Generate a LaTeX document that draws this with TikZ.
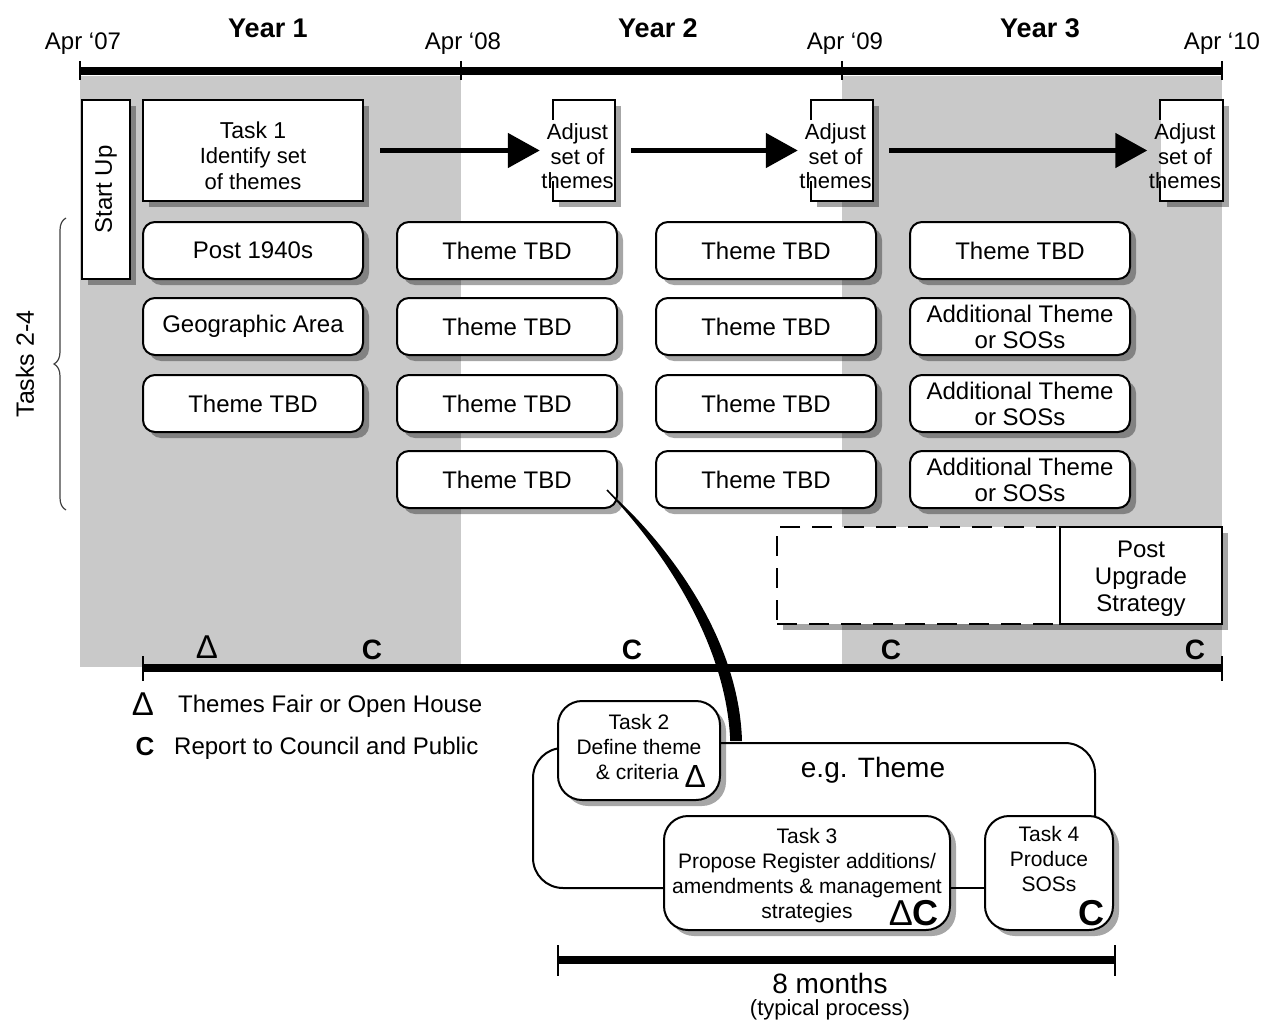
\documentclass[tikz,border=0pt]{standalone}
\usepackage{fontspec}
\setmainfont{Liberation Sans}
\usetikzlibrary{positioning,shadows,arrows.meta,decorations.pathreplacing}

\definecolor{bandgrey}{gray}{0.79}

\tikzset{
  sh/.style={drop shadow={shadow xshift=6pt,shadow yshift=-6pt,opacity=0.35,fill=black}},
  themebox/.style={draw,line width=2pt,fill=white,rounded corners=12pt,minimum width=220pt,
    minimum height=57pt,align=center,font=\fontsize{24}{26}\selectfont,sh},
  taskbox/.style={draw,line width=2pt,fill=white,align=center,sh,font=\fontsize{22}{25.5}\selectfont},
  adjbox/.style={fill=white,minimum width=62pt,minimum height=101pt,inner sep=0pt,sh},
  adjtext/.style={align=center,inner sep=0pt,font=\fontsize{22}{24.5}\selectfont},
  procbox/.style={draw,line width=2pt,fill=white,rounded corners=24pt,align=center,sh,
    font=\fontsize{21}{25}\selectfont},
  bigarrow/.style={line width=5pt,-{Triangle[length=32pt,width=34pt]},shorten <=16pt,shorten >=13pt},
  cmark/.style={font=\bfseries\fontsize{28}{28}\selectfont,inner sep=0pt},
  bigmark/.style={font=\bfseries\fontsize{36}{36}\selectfont,inner sep=0pt},
  deltamark/.style={font=\fontsize{33}{33}\selectfont,inner sep=0pt},
  loopline/.style={line width=2pt,rounded corners=30pt},
  datelbl/.style={font=\fontsize{24}{24}\selectfont},
  yearlbl/.style={font=\bfseries\fontsize{27}{27}\selectfont},
}

\begin{document}
\begin{tikzpicture}[x=1pt,y=-1pt]
    \useasboundingbox (0,0) rectangle (1274,1022);

    % grey years
    \fill[bandgrey] (80,76) rectangle (461,667);
    \fill[bandgrey] (842,76) rectangle (1222,667);

    % time line on top
    \draw[line width=8pt] (80,71) -- (1222,71);
    \foreach \x in {80,461,842,1222} \draw[line width=2.5pt] (\x,61) -- (\x,80);
    \node[datelbl] (d07) at (83,44) {Apr `07};
    \node[datelbl] (d08) at (463,44) {Apr `08};
    \node[datelbl] (d09) at (845,44) {Apr `09};
    \node[datelbl] (d10) at (1222,44) {Apr `10};
    \node[yearlbl] (yr1) at (268,28) {Year 1};
    \node[yearlbl] (yr2) at (658,28) {Year 2};
    \node[yearlbl] (yr3) at (1040,28) {Year 3};

    % task 1 and adjustments
    \node[taskbox,minimum width=48pt,minimum height=179pt,inner sep=0pt,font=\fontsize{24}{24}\selectfont]
        (start) at (106,189.5) {\rotatebox{90}{Start Up}};
    \node[taskbox,minimum width=220pt,minimum height=101pt] (task1) at (253,150.5)
        {{\fontsize{23}{25}\selectfont\rule{0pt}{27pt}Task 1}\\Identify set\\of themes};
    \node[adjbox] (adj1) at (584,150.5) {};
    \node[adjbox] (adj2) at (842,150.5) {};
    \node[adjbox] (adj3) at (1191.5,150.5) {};
    \foreach \a in {adj1,adj2,adj3} {
        \draw[line width=2pt] ([yshift=-20pt]\a.north west) -- (\a.north west) -- (\a.north east)
            -- (\a.south east) -- (\a.south west) -- ([yshift=20pt]\a.south west);
        \node[adjtext] (\a t) at ([xshift=-6.5pt,yshift=-6pt]\a.center) {Adjust\\set of\\themes};
    }
    \draw[bigarrow] (task1) -- (adj1);
    \draw[bigarrow] (adj1) -- (adj2);
    \draw[bigarrow] (adj2) -- (adj3);

    % themes
    \node[themebox] (p40) at (253,250.5) {Post 1940s};
    \node[themebox] (geo) at (253,326.5) {Geographic Area};
    \node[themebox] (tbd13) at (253,403.5) {Theme TBD};
    \foreach \c/\x in {2/507,3/766}
        \foreach \r/\y in {1/250.5,2/326.5,3/403.5,4/479.5}
            \node[themebox] (tbd\c\r) at (\x,\y) {Theme TBD};
    \node[themebox] (tbd41) at (1020,250.5) {Theme TBD};
    \foreach \r/\y in {2/326.5,3/403.5,4/479.5}
        \node[themebox] (add\r) at (1020,\y) {Additional Theme\\or SOSs};

    % post upgrade
    \node[draw,fill=white,line width=2pt,dash pattern=on 20pt off 12pt,minimum width=283pt,
        minimum height=97pt,sh] (future) at (918.5,575.5) {};
    \node[taskbox,minimum width=162pt,minimum height=97pt,font=\fontsize{24}{27}\selectfont]
        (pus) at (1141,575.5) {\rule{0pt}{23pt}Post\\Upgrade\\Strategy};

    % brace
    \draw[decorate,decoration={brace,amplitude=12pt},line width=1.2pt,black!75] (66,510) -- (66,218);
    \node[rotate=90,font=\fontsize{25}{25}\selectfont] (tasks) at (25,364) {Tasks 2-4};

    % time line at bottom
    \draw[line width=8pt] (143,668) -- (1222,668);
    \foreach \x in {143,1222} \draw[line width=2.5pt] (\x,656) -- (\x,681);
    \node[deltamark] (fair1) at (207,647) {Δ};
    \node[cmark] (rep1) at (372,650) {C};
    \node[cmark] (rep2) at (632,650) {C};
    \node[cmark] (rep3) at (891,650) {C};
    \node[cmark] (rep4) at (1195,650) {C};

    % legend
    \node[deltamark] (lgfair) at (143,704) {Δ};
    \node[anchor=west,inner sep=0pt,font=\fontsize{24}{24}\selectfont] (lgfairt) at (178,706)
        {Themes Fair or Open House};
    \node[cmark,font=\bfseries\fontsize{26}{26}\selectfont] (lgrep) at (145,747) {C};
    \node[anchor=west,inner sep=0pt,font=\fontsize{24}{24}\selectfont] (lgrept) at (174,748)
        {Report to Council and Public};

    % typical process
    \draw[loopline] (720,743) -- (1095,743) -- (1095,816);
    \draw[loopline] (558,748) -- (533,748) -- (533,888) -- (664,888);
    \draw[line width=2pt] (950,888) -- (985,888);
    \node[font=\fontsize{28}{28}\selectfont] (eg) at (873,770) {e.g. Theme};
    \node[procbox,minimum width=162pt,minimum height=99pt] (task2) at (639,750.5)
        {Task 2\\Define theme\\\hspace*{24pt}\& criteria \raisebox{-8pt}{\fontsize{32}{25}\selectfont Δ}};
    \node[procbox,minimum width=286pt,minimum height=114pt] (task3) at (807,873)
        {\rule{0pt}{20pt}Task 3\\Propose Register additions/\\amendments \& management\\strategies};
    \node[procbox,minimum width=128pt,minimum height=114pt] (task4) at (1049,873)
        {\rule{0pt}{20pt}Task 4\\Produce\\SOSs\\\strut};
    \node[bigmark,anchor=south east] (m3) at ([xshift=-12pt,yshift=5pt]task3.south east) {{\mdseries Δ}C};
    \node[bigmark,anchor=south east] (m4) at ([xshift=-9pt,yshift=5pt]task4.south east) {C};

    % link from the theme box
    \coordinate (cs) at (607,490);
    \coordinate (ceL) at (731,741);
    \coordinate (ceR) at (742,741);
    \fill (cs) .. controls (660,545) and (727,640) .. (ceL) -- (ceR) .. controls (739,636) and (665,541) .. (cs) -- cycle;
    \draw[line width=1.5pt] (cs) .. controls (660,545) and (727,640) .. (ceL);

    % eight months
    \draw[line width=8pt] (558,960) -- (1115,960);
    \foreach \x in {558,1115} \draw[line width=2.5pt] (\x,945) -- (\x,976);
    \node[font=\fontsize{28}{28}\selectfont] (months) at (830,983) {8 months};
    \node[font=\fontsize{22}{22}\selectfont] (typical) at (830,1010) {(typical process)};
\end{tikzpicture}
\end{document}
